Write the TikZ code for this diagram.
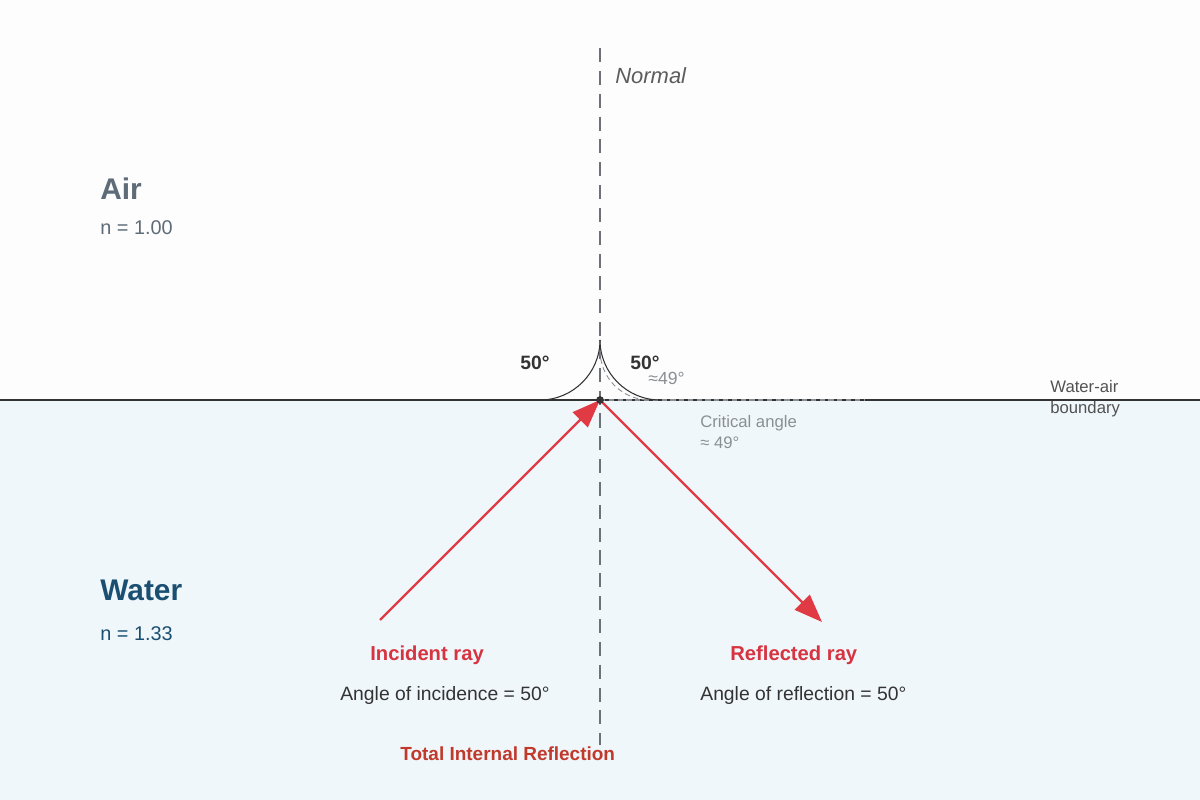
\documentclass[tikz,border=0pt]{standalone}
\usepackage{fontspec}
\setmainfont{Liberation Sans}
\usetikzlibrary{arrows.meta}
\definecolor{airbg}{HTML}{FDFDFD}
\definecolor{waterbg}{HTML}{F0F7FB}
\definecolor{ray}{HTML}{E03A45}
\definecolor{rayt}{HTML}{D63440}
\definecolor{airt}{HTML}{5E6B78}
\definecolor{watert}{HTML}{1B4F72}
\definecolor{gr}{HTML}{8A8F94}
\definecolor{dk}{HTML}{333333}
\definecolor{tir}{HTML}{C0392B}
\begin{document}
\begin{tikzpicture}[x=0.02cm,y=-0.02cm,
  lbl/.style={inner sep=0,anchor=base west},
  rayline/.style={ray,line width=1.3pt,-{Triangle[length=16pt,width=12pt]}},
  arc/.style={dk,line width=0.6pt}]
\useasboundingbox (0,0) rectangle (1200,800);
\fill[airbg] (0,0) rectangle (1200,400);
\fill[waterbg] (0,400) rectangle (1200,800);
\coordinate (O) at (600,400);
\coordinate (Ntop) at (600,48);
\coordinate (Nbot) at (600,745);
\draw[gr!80!black,line width=0.8pt,dash pattern=on 8pt off 5pt] (Ntop) -- (Nbot);
\draw[dk,line width=1.1pt] (0,400) -- (1200,400);
\draw[gr,line width=1pt,dash pattern=on 3pt off 2pt] (O) -- (865,400);
% arcs
\draw[arc] (600,340) .. controls (600,373) and (573,400) .. (540,400);
\draw[arc] (600,340) .. controls (600,373) and (627,400) .. (660,400);
\draw[gr,line width=0.5pt,dash pattern=on 3pt off 2pt] (600,350) .. controls (600,378) and (622,400) .. (650,400);
% rays
\coordinate (A) at (380,620);
\coordinate (B) at (822,622);
\draw[rayline] (A) -- (O);
\draw[rayline] (O) -- (B);
\fill[dk] (O) circle (2.2pt);
% texts
\node[lbl,font=\itshape\fontsize{12.5pt}{14pt}\selectfont,text=dk!80] (nl) at (615,84) {Normal};
\node[lbl,font=\bfseries\fontsize{17pt}{20pt}\selectfont,text=airt] (air) at (100,200) {Air};
\node[lbl,font=\fontsize{11.3pt}{13pt}\selectfont,text=airt] (an) at (100,235) {n = 1.00};
\node[lbl,font=\bfseries\fontsize{17pt}{20pt}\selectfont,text=watert] (wa) at (100,600) {Water};
\node[lbl,font=\fontsize{11.3pt}{13pt}\selectfont,text=watert] (wn) at (100,640) {n = 1.33};
\node[lbl,font=\bfseries\fontsize{11pt}{13pt}\selectfont,text=dk] (a1) at (520,370) {50°};
\node[lbl,font=\bfseries\fontsize{11pt}{13pt}\selectfont,text=dk] (a2) at (630,370) {50°};
\node[lbl,font=\fontsize{10pt}{12pt}\selectfont,text=gr] (a3) at (648,385) {≈49°};
\node[lbl,font=\fontsize{9.5pt}{11pt}\selectfont,text=gr,align=left,anchor=north west] (ca) at (700,415) {Critical angle\\[1pt]≈ 49°};
\node[lbl,font=\fontsize{9.5pt}{11pt}\selectfont,text=dk!85,align=left,anchor=north west] (wb) at (1050,380) {Water-air\\[1pt]boundary};
\node[lbl,font=\bfseries\fontsize{11.5pt}{13pt}\selectfont,text=rayt] (ir) at (370,660) {Incident ray};
\node[lbl,font=\bfseries\fontsize{11.5pt}{13pt}\selectfont,text=rayt] (rr) at (730,660) {Reflected ray};
\node[lbl,font=\fontsize{11pt}{13pt}\selectfont,text=dk] (ai) at (340,700) {Angle of incidence = 50°};
\node[lbl,font=\fontsize{11pt}{13pt}\selectfont,text=dk] (ar) at (700,700) {Angle of reflection = 50°};
\node[lbl,font=\bfseries\fontsize{10.8pt}{13pt}\selectfont,text=tir] (t) at (400,760) {Total Internal Reflection};
\end{tikzpicture}
\end{document}
